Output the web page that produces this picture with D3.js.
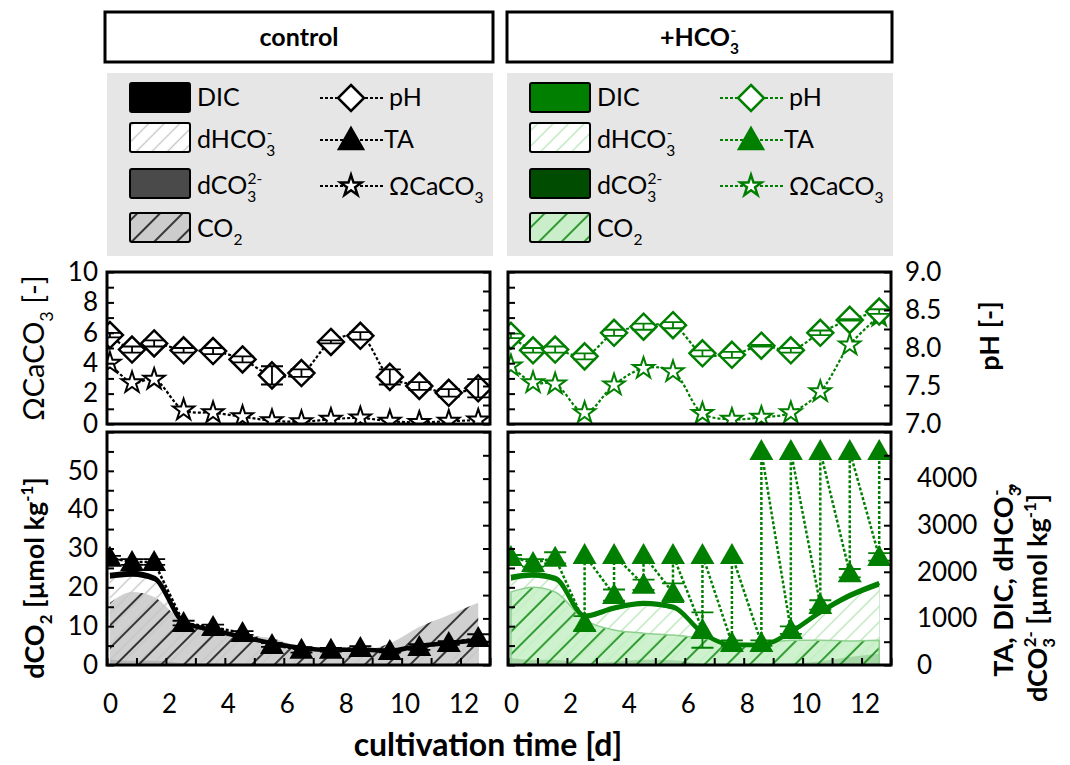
<!DOCTYPE html>
<html>
<head>
<meta charset="utf-8">
<script src="https://cdn.jsdelivr.net/npm/d3@7"></script>
<style>body{margin:0;background:#fff} svg{display:block}</style>
</head>
<body>
<div id="chart-area"></div>
<script>
const FONT = "Lato, 'Open Sans', sans-serif"

// sampling days (same for both treatments)
const days = [0.1, 0.85, 1.6, 2.6, 3.6, 4.6, 5.6, 6.6, 7.6, 8.6, 9.6, 10.6, 11.6, 12.6]

// tick values / labels
const dayTicks = d3.range(0, 14)
const dayLabels = [0, 2, 4, 6, 8, 10, 12]
const omegaTicks = d3.range(0, 11)
const omegaLabels = [0, 2, 4, 6, 8, 10]
const phTicks = d3.range(7, 9.01, 0.25)
const phLabels = [7.0, 7.5, 8.0, 8.5, 9.0]
const co2Ticks = d3.range(0, 61, 5)
const co2Labels = [0, 10, 20, 30, 40, 50]
const taTicks = d3.range(0, 5001, 500)
const taLabels = [0, 1000, 2000, 3000, 4000]

// control
const ctrlPH = [8.17, 7.98, 8.06, 7.97, 7.96, 7.85, 7.64, 7.67, 8.08, 8.16, 7.62, 7.50, 7.41, 7.47]
const ctrlPHErr = [0.03, 0.04, 0.04, 0.03, 0.04, 0.04, 0.12, 0.05, 0.02, 0.05, 0.10, 0.05, 0.05, 0.12]
const ctrlOmega = [4.0, 2.72, 2.94, 0.92, 0.74, 0.48, 0.22, 0.15, 0.31, 0.40, 0.18, 0.11, 0.18, 0.26]
const ctrlTA = [2300, 2210, 2210, 900, 815, 685, 430, 325, 325, 365, 300, 385, 470, 580]
const ctrlTAErr = [40, 60, 60, 50, 50, 40, 40, 60, 40, 40, 30, 60, 40, 80]
const ctrlTAAdded = [null, null, null, null, null, null, null, null, null, null, null, null, null, null]
const ctrlDIC = [1930, 1975, 1870, 920, 750, 600, 470, 365, 325, 325, 310, 410, 470, 535]
const ctrlHCO3 = [1850, 1895, 1795, 865, 705, 565, 440, 340, 305, 305, 290, 385, 440, 500]
const ctrlCO3 = [120, 90, 90, 40, 30, 20, 12, 10, 12, 14, 10, 8, 9, 12]
const ctrlCO2 = [16, 18.8, 17.5, 11, 9, 7.7, 6.9, 4.6, 3.9, 3.9, 5.6, 9.8, 12.9, 16]

// +HCO3-
const hcoPH = [8.16, 7.97, 7.98, 7.89, 8.20, 8.28, 8.30, 7.93, 7.91, 8.03, 7.97, 8.20, 8.37, 8.48]
const hcoPHErr = [0.03, 0.03, 0.04, 0.04, 0.04, 0.04, 0.04, 0.04, 0.04, 0.01, 0.03, 0.03, 0.01, 0.03]
const hcoOmega = [3.82, 2.72, 2.63, 0.74, 2.57, 3.66, 3.44, 0.70, 0.31, 0.44, 0.74, 2.13, 5.2, 7.1]
const hcoTA = [2320, 2190, 2300, 900, 1500, 1720, 1550, 750, 470, 470, 750, 1290, 1970, 2320]
const hcoTAErr = [40, 80, 120, 150, 120, 110, 200, 380, 60, 60, 80, 100, 90, 80]
const hcoTAAdded = [null, null, null, 2360, 2360, 2360, 2360, 2360, 2360, 4590, 4590, 4590, 4590, 4590]
const hcoDIC = [1890, 1950, 1870, 1060, 1230, 1330, 1250, 690, 430, 430, 710, 1140, 1500, 1760]
const hcoHCO3 = [1810, 1870, 1790, 995, 1165, 1265, 1185, 640, 395, 395, 665, 1075, 1425, 1680]
const hcoCO3 = [150, 110, 105, 40, 70, 110, 100, 25, 12, 15, 30, 80, 170, 240]
const hcoCO2 = [18.8, 20, 18.8, 11.6, 9, 8.2, 7.7, 6.9, 6.0, 5.6, 6.4, 6.4, 6.2, 6.4]

const PW = 383
const TOP = [272, 424]
const BOT = [432, 665]
const TICK_FONT = 26

const svg = d3.select("#chart-area").append("svg")
  .attr("width", 1070)
  .attr("height", 765)
const defs = svg.append("defs")

const yOmega = d3.scaleLinear().domain([0, 10]).range([TOP[1], TOP[0]])
const yPH = d3.scaleLinear().domain([7, 9]).range([TOP[1], TOP[0]])
const yCO2 = d3.scaleLinear().domain([0, 60]).range([BOT[1], BOT[0]])
const yTA = d3.scaleLinear().domain([0, 5000]).range([BOT[1], BOT[0]])

const DIAMOND = "M0,-13L13,0L0,13L-13,0Z"
const TRIANGLE = "M0,-12L12,9L-12,9Z"
const STAR = d3.symbol(d3.symbolStar, 140)()

function hatch(id, bg, line, gap, width) {
  const p = defs.append("pattern").attr("id", id)
    .attr("patternUnits", "userSpaceOnUse")
    .attr("width", gap).attr("height", gap)
    .attr("patternTransform", "rotate(45)")
  p.append("rect").attr("width", gap).attr("height", gap).attr("fill", bg)
  p.append("line").attr("x1", gap / 2).attr("y1", 0).attr("x2", gap / 2).attr("y2", gap)
    .attr("stroke", line).attr("stroke-width", width)
}

// text with sub / superscripts
function rich(sel, parts, size) {
  let cur = 0
  let lastSub = 0
  parts.forEach(([txt, kind]) => {
    let off = 0, fs = size, dx = 0
    if (kind === "sub") { off = 0.3 * size; fs = 0.62 * size; lastSub = txt.length * 0.62 * size * 0.55 }
    if (kind === "sup") { off = -0.42 * size; fs = 0.62 * size }
    if (kind === "supOver") { off = -0.42 * size; fs = 0.62 * size; dx = -lastSub }
    sel.append("tspan").attr("dy", off - cur).attr("dx", dx).attr("font-size", fs).text(txt)
    cur = off
  })
  return sel
}

function styleAxis(g) {
  g.select(".domain").remove()
  g.attr("font-family", FONT).attr("font-size", TICK_FONT)
  g.selectAll(".tick line").attr("stroke", "#000").attr("stroke-width", 2)
  g.selectAll(".tick text").attr("fill", "#000")
}

function errBars(g, pts, x, y, color, half) {
  pts.filter(p => p.err).forEach(p => {
    const cx = x(p.t), y1 = y(p.v - p.err), y2 = y(p.v + p.err)
    g.append("path")
      .attr("d", `M${cx},${y1}V${y2}M${cx - half},${y1}H${cx + half}M${cx - half},${y2}H${cx + half}`)
      .attr("stroke", color).attr("stroke-width", 1.8).attr("fill", "none")
  })
}

const conditions = [
  { id: "ctrl", title: [["control"]], left: 107, boxX: 105, boxW: 388, legendX: 107,
    color: "#000", dicFill: "#000", co3Fill: "#4a4a4a", co2Edge: "none",
    hco3Bg: "#fff", hco3Line: "#c4c4c4", co2Bg: "rgba(200,200,200,0.85)", co2Line: "#000",
    ph: ctrlPH, phErr: ctrlPHErr, omega: ctrlOmega, ta: ctrlTA, taErr: ctrlTAErr, taAdded: ctrlTAAdded,
    dic: ctrlDIC, hco3: ctrlHCO3, co3: ctrlCO3, co2: ctrlCO2 },
  { id: "hco", title: [["+HCO"], ["3", "sub"], ["-", "supOver"]], left: 508, boxX: 507, boxW: 385, legendX: 507,
    color: "#007f00", dicFill: "#007f00", co3Fill: "#004c00", co2Edge: "#8fd08f",
    hco3Bg: "#fff", hco3Line: "#b6e6b6", co2Bg: "rgba(196,240,196,0.85)", co2Line: "#007f00",
    ph: hcoPH, phErr: hcoPHErr, omega: hcoOmega, ta: hcoTA, taErr: hcoTAErr, taAdded: hcoTAAdded,
    dic: hcoDIC, hco3: hcoHCO3, co3: hcoCO3, co2: hcoCO2 }
]

conditions.forEach((c, ci) => {
  hatch(`${c.id}-hco3`, c.hco3Bg, c.hco3Line, 11, 1.3)
  hatch(`${c.id}-co2`, c.co2Bg, c.co2Line, 16, 1.5)

  const x = d3.scaleLinear().domain([0, 13]).range([c.left, c.left + PW])

  // header box
  svg.append("rect").attr("x", c.boxX).attr("y", 12).attr("width", c.boxW).attr("height", 50)
    .attr("fill", "#fff").attr("stroke", "#000").attr("stroke-width", 3)
  rich(svg.append("text").attr("x", c.boxX + c.boxW / 2).attr("y", 46)
    .attr("text-anchor", "middle").attr("font-family", FONT).attr("font-weight", "bold"), c.title, 25)

  // legend
  const lx = c.legendX
  const lg = svg.append("g").attr("font-family", FONT)
  lg.append("rect").attr("x", lx).attr("y", 73).attr("width", 386).attr("height", 183).attr("fill", "#e6e6e6")
  const swatches = [
    { y: 83, fill: c.dicFill, parts: [["DIC"]], ty: 106 },
    { y: 123, fill: `url(#${c.id}-hco3)`, parts: [["dHCO"], ["3", "sub"], ["-", "supOver"]], ty: 148 },
    { y: 169, fill: c.co3Fill, parts: [["dCO"], ["3", "sub"], ["2-", "supOver"]], ty: 194 },
    { y: 213, fill: `url(#${c.id}-co2)`, parts: [["CO"], ["2", "sub"]], ty: 237 }
  ]
  swatches.forEach(s => {
    lg.append("rect").attr("x", lx + 23).attr("y", s.y).attr("width", 60).attr("height", 29)
      .attr("rx", 2).attr("fill", s.fill).attr("stroke", "#000").attr("stroke-width", 2)
    rich(lg.append("text").attr("x", lx + 90).attr("y", s.ty), s.parts, 25)
  })
  const lines = [
    { y: 98, mark: DIAMOND, fill: "#fff", parts: [["pH"]], ty: 106, tx: 282 },
    { y: 140, mark: TRIANGLE, fill: c.color, parts: [["TA"]], ty: 148, tx: 277 },
    { y: 186, mark: STAR, fill: "#fff", parts: [["ΩCaCO"], ["3", "sub"]], ty: 195, tx: 282 }
  ]
  lines.forEach(l => {
    lg.append("line").attr("x1", lx + 213).attr("x2", lx + 276).attr("y1", l.y).attr("y2", l.y)
      .attr("stroke", c.color).attr("stroke-width", 2).attr("stroke-dasharray", "3,2")
    lg.append("path").attr("d", l.mark).attr("transform", `translate(${lx + 244},${l.y})`)
      .attr("fill", l.fill).attr("stroke", c.color).attr("stroke-width", 2.5)
    rich(lg.append("text").attr("x", lx + l.tx).attr("y", l.ty), l.parts, 25)
  })

  // clip paths
  defs.append("clipPath").attr("id", `clip-top-${ci}`).append("rect")
    .attr("x", c.left).attr("y", TOP[0]).attr("width", PW).attr("height", TOP[1] - TOP[0])
  defs.append("clipPath").attr("id", `clip-bot-${ci}`).append("rect")
    .attr("x", c.left).attr("y", BOT[0]).attr("width", PW).attr("height", BOT[1] - BOT[0])

  // ---- top panel: pH and Omega
  const top = svg.append("g").attr("clip-path", `url(#clip-top-${ci})`)
  const phPts = days.map((t, i) => ({ t, v: c.ph[i], err: c.phErr[i] }))
  const omPts = days.map((t, i) => ({ t, v: c.omega[i] }))
  const dashed = (g, pts, y, curve) => g.append("path").datum(pts)
    .attr("d", d3.line().x(d => x(d.t)).y(d => y(d.v)).curve(curve))
    .attr("fill", "none").attr("stroke", c.color).attr("stroke-width", 2.2).attr("stroke-dasharray", "3,2")
  dashed(top, omPts, yOmega, d3.curveCatmullRom)
  dashed(top, phPts, yPH, d3.curveCatmullRom)
  top.selectAll(".star").data(omPts).enter().append("path")
    .attr("d", STAR).attr("transform", d => `translate(${x(d.t)},${yOmega(d.v)})`)
    .attr("fill", "#fff").attr("stroke", c.color).attr("stroke-width", 2)
  top.selectAll(".dia").data(phPts).enter().append("path")
    .attr("d", DIAMOND).attr("transform", d => `translate(${x(d.t)},${yPH(d.v)})`)
    .attr("fill", "#fff").attr("stroke", c.color).attr("stroke-width", 2.5)
  errBars(top, phPts, x, yPH, c.color, 11)

  // ---- bottom panel: carbonate system
  const bot = svg.append("g").attr("clip-path", `url(#clip-bot-${ci})`)
  const series = arr => days.map((t, i) => ({ t, v: arr[i] }))
  const areaTA = d3.area().x(d => x(d.t)).y0(yTA(0)).y1(d => yTA(d.v)).curve(d3.curveMonotoneX)
  const areaCO2 = d3.area().x(d => x(d.t)).y0(yCO2(0)).y1(d => yCO2(d.v)).curve(d3.curveMonotoneX)
  bot.append("path").datum(series(c.dic)).attr("d", areaTA).attr("fill", c.dicFill)
  bot.append("path").datum(series(c.hco3)).attr("d", areaTA).attr("fill", `url(#${c.id}-hco3)`)
  bot.append("path").datum(series(c.co3)).attr("d", areaTA).attr("fill", c.co3Fill)
  bot.append("path").datum(series(c.co2)).attr("d", areaCO2).attr("fill", `url(#${c.id}-co2)`)
    .attr("stroke", c.co2Edge).attr("stroke-width", 1.5)
  bot.append("path").datum(series(c.dic))
    .attr("d", d3.line().x(d => x(d.t)).y(d => yTA(d.v)).curve(d3.curveMonotoneX))
    .attr("fill", "none").attr("stroke", c.dicFill).attr("stroke-width", 4.5)

  // TA: measured value, then value after bicarbonate addition (if any)
  const taPts = []
  days.forEach((t, i) => {
    taPts.push({ t, v: c.ta[i], err: c.taErr[i] })
    if (c.taAdded[i] != null) taPts.push({ t, v: c.taAdded[i] })
  })
  bot.append("path").datum(taPts)
    .attr("d", d3.line().x(d => x(d.t)).y(d => yTA(d.v)))
    .attr("fill", "none").attr("stroke", c.color).attr("stroke-width", 2.5).attr("stroke-dasharray", "3,2")
  bot.selectAll(".tri").data(taPts).enter().append("path")
    .attr("d", TRIANGLE).attr("transform", d => `translate(${x(d.t)},${yTA(d.v)})`)
    .attr("fill", c.color)
  errBars(bot, taPts, x, yTA, c.color, 11)

  // ---- axes (ticks point inwards)
  const inward = (gen, vals, labels, fmt, pad) => gen.tickValues(vals).tickSizeInner(-7).tickSizeOuter(0)
    .tickPadding(pad).tickFormat(d => labels && labels.some(l => Math.abs(l - d) < 1e-6) ? fmt(d) : "")

  svg.append("g").attr("transform", `translate(${c.left},0)`)
    .call(inward(d3.axisLeft(yOmega), omegaTicks, ci === 0 ? omegaLabels : null, d3.format("d"), 9)).call(styleAxis)
  svg.append("g").attr("transform", `translate(${c.left + PW},0)`)
    .call(inward(d3.axisRight(yPH), phTicks, ci === 1 ? phLabels : null, d3.format(".1f"), 14)).call(styleAxis)
  svg.append("g").attr("transform", `translate(${c.left},0)`)
    .call(inward(d3.axisLeft(yCO2), co2Ticks, ci === 0 ? co2Labels : null, d3.format("d"), 9)).call(styleAxis)
  svg.append("g").attr("transform", `translate(${c.left + PW},0)`)
    .call(inward(d3.axisRight(yTA), taTicks, ci === 1 ? taLabels : null, d3.format("d"), 26)).call(styleAxis)
  const xAx = svg.append("g").attr("transform", `translate(0,${BOT[1]})`)
    .call(inward(d3.axisBottom(x), dayTicks, dayLabels, d3.format("d"), 30)).call(styleAxis)
  xAx.selectAll(".tick text").attr("dx", 3)

  // frames
  svg.append("rect").attr("x", c.left).attr("y", TOP[0]).attr("width", PW).attr("height", TOP[1] - TOP[0])
    .attr("fill", "none").attr("stroke", "#000").attr("stroke-width", 3)
  svg.append("rect").attr("x", c.left).attr("y", BOT[0]).attr("width", PW).attr("height", BOT[1] - BOT[0])
    .attr("fill", "none").attr("stroke", "#000").attr("stroke-width", 3)
})

// axis titles
const title = (tx, ty, parts, bold, rot, size) => rich(svg.append("text")
  .attr("transform", `translate(${tx},${ty})` + (rot ? " rotate(-90)" : ""))
  .attr("text-anchor", "middle").attr("font-family", FONT)
  .attr("font-weight", bold ? "bold" : "normal"), parts, size)

title(44, 348, [["ΩCaCO"], ["3", "sub"], [" [-]"]], false, true, 29)
title(44, 578, [["dCO"], ["2", "sub"], [" [µmol kg"], ["-1", "sup"], ["]"]], true, true, 27)
title(999, 336, [["pH [-]"]], true, true, 27)
title(1013, 580, [["TA, DIC, dHCO"], ["3", "sub"], ["-", "supOver"], [","]], true, true, 27)
title(1047, 598, [["dCO"], ["3", "sub"], ["2-", "supOver"], [" [µmol kg"], ["-1", "sup"], ["]"]], true, true, 27)
title(488, 756, [["cultivation time [d]"]], true, false, 32)
</script>
</body>
</html>
